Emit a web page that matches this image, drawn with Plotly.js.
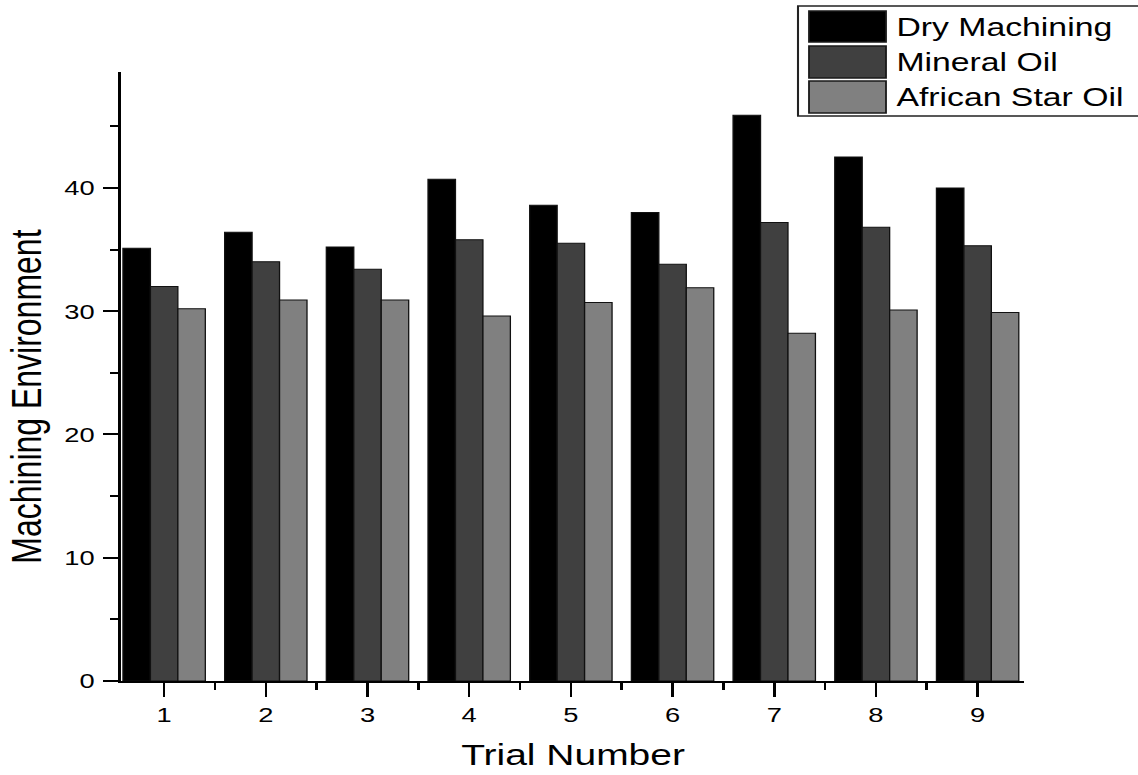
<!DOCTYPE html>
<html>
<head>
<meta charset="utf-8">
<script src="https://cdn.plot.ly/plotly-3.0.1.min.js"></script>
<style>
  html, body { margin: 0; padding: 0; background: #ffffff; overflow: hidden; }
  #wrap { width: 876px; height: 775px; transform: scaleX(1.2991); transform-origin: 0 0; }
  #chart { width: 876px; height: 775px; }
</style>
</head>
<body>
<div id="wrap"><div id="chart"></div></div>
<script>
// ---- data ----
const trials = [1, 2, 3, 4, 5, 6, 7, 8, 9];
const dryMachining = [35.1, 36.4, 35.2, 40.7, 38.6, 38.0, 45.9, 42.5, 40.0];
const mineralOil   = [32.0, 34.0, 33.4, 35.8, 35.5, 33.8, 37.2, 36.8, 35.3];
const africanStar  = [30.2, 30.9, 30.9, 29.6, 30.7, 31.9, 28.2, 30.1, 29.9];
const seriesNames  = ['Dry Machining', 'Mineral Oil', 'African Star Oil'];
const seriesColors = ['#000000', '#404040', '#808080'];

// ---- layout geometry ----
const S = 1.2991;            // horizontal stretch applied to the whole figure
const W = 876, H = 775;
const M = { l: 93, r: 88, t: 72, b: 94 };
const PW = W - M.l - M.r, PH = H - M.t - M.b;
const FONT = 'Liberation Sans, Arial, Helvetica, sans-serif';
// convert reference (stretched) pixel positions to paper coords for legend decoration
const px = X => (X / S - M.l) / PW;
const py = Y => (H - M.b - Y) / PH;

const allSeries = [dryMachining, mineralOil, africanStar];
const traces = allSeries.map((vals, i) => ({
  type: 'bar',
  x: trials,
  y: vals,
  name: seriesNames[i],
  marker: { color: seriesColors[i], line: { color: '#111111', width: 1 } },
  showlegend: false,
  hoverinfo: 'x+y+name'
}));

// manual legend (large swatches as in the reference)
const shapes = [{
  type: 'rect', xref: 'paper', yref: 'paper',
  x0: px(798), x1: px(1145), y0: py(116), y1: py(6),
  line: { color: '#222222', width: 1.6 }, fillcolor: '#ffffff', layer: 'below'
}];
const swatchRows = [[11, 42], [46, 78], [81, 113]];
const annotations = [];
seriesNames.forEach((nm, i) => {
  const [a, b] = swatchRows[i];
  shapes.push({
    type: 'rect', xref: 'paper', yref: 'paper',
    x0: px(809), x1: px(886), y0: py(b), y1: py(a),
    line: { color: '#1a1a1a', width: 1.4 }, fillcolor: seriesColors[i]
  });
  annotations.push({
    xref: 'paper', yref: 'paper', x: px(894), y: py((a + b) / 2),
    xanchor: 'left', yanchor: 'middle', showarrow: false,
    text: nm, font: { family: FONT, size: 26, color: '#000000' }
  });
});

// axis titles
annotations.push({
  xref: 'paper', yref: 'paper', x: px(27), y: py(396),
  xanchor: 'center', yanchor: 'middle', showarrow: false, textangle: -90,
  text: 'Machining Environment', font: { family: FONT, size: 32, color: '#000000' }
});
annotations.push({
  xref: 'paper', yref: 'paper', x: 0.5, y: py(754),
  xanchor: 'center', yanchor: 'middle', showarrow: false,
  text: 'Trial Number', font: { family: FONT, size: 30, color: '#000000' }
});

const layout = {
  width: W, height: H,
  margin: M,
  paper_bgcolor: '#ffffff', plot_bgcolor: '#ffffff',
  font: { family: FONT, color: '#000000' },
  barmode: 'group', bargap: 0.19, bargroupgap: 0,
  showlegend: false,
  xaxis: {
    type: 'linear', range: [0.574, 9.453],
    tickmode: 'array', tickvals: trials, ticktext: trials.map(String),
    ticks: 'outside', ticklen: 14, tickwidth: 2, tickcolor: '#000000',
    minor: { ticks: 'outside', tick0: 0.5, dtick: 1, ticklen: 7, tickwidth: 2, tickcolor: '#000000', showgrid: false },
    showline: true, linecolor: '#000000', linewidth: 2,
    showgrid: false, zeroline: false,
    tickfont: { family: FONT, size: 21, color: '#000000' }
  },
  yaxis: {
    range: [0, 49.4], tick0: 0, dtick: 10,
    ticks: 'outside', ticklen: 12, tickwidth: 2, tickcolor: '#000000',
    minor: { ticks: 'outside', tick0: 0, dtick: 5, ticklen: 6, tickwidth: 2, tickcolor: '#000000', showgrid: false },
    showline: true, linecolor: '#000000', linewidth: 2,
    showgrid: false, zeroline: false,
    ticklabelstandoff: 2,
    tickfont: { family: FONT, size: 21, color: '#000000' }
  },
  shapes: shapes,
  annotations: annotations
};

Plotly.newPlot('chart', traces, layout, { displayModeBar: false, staticPlot: true });
</script>
</body>
</html>
